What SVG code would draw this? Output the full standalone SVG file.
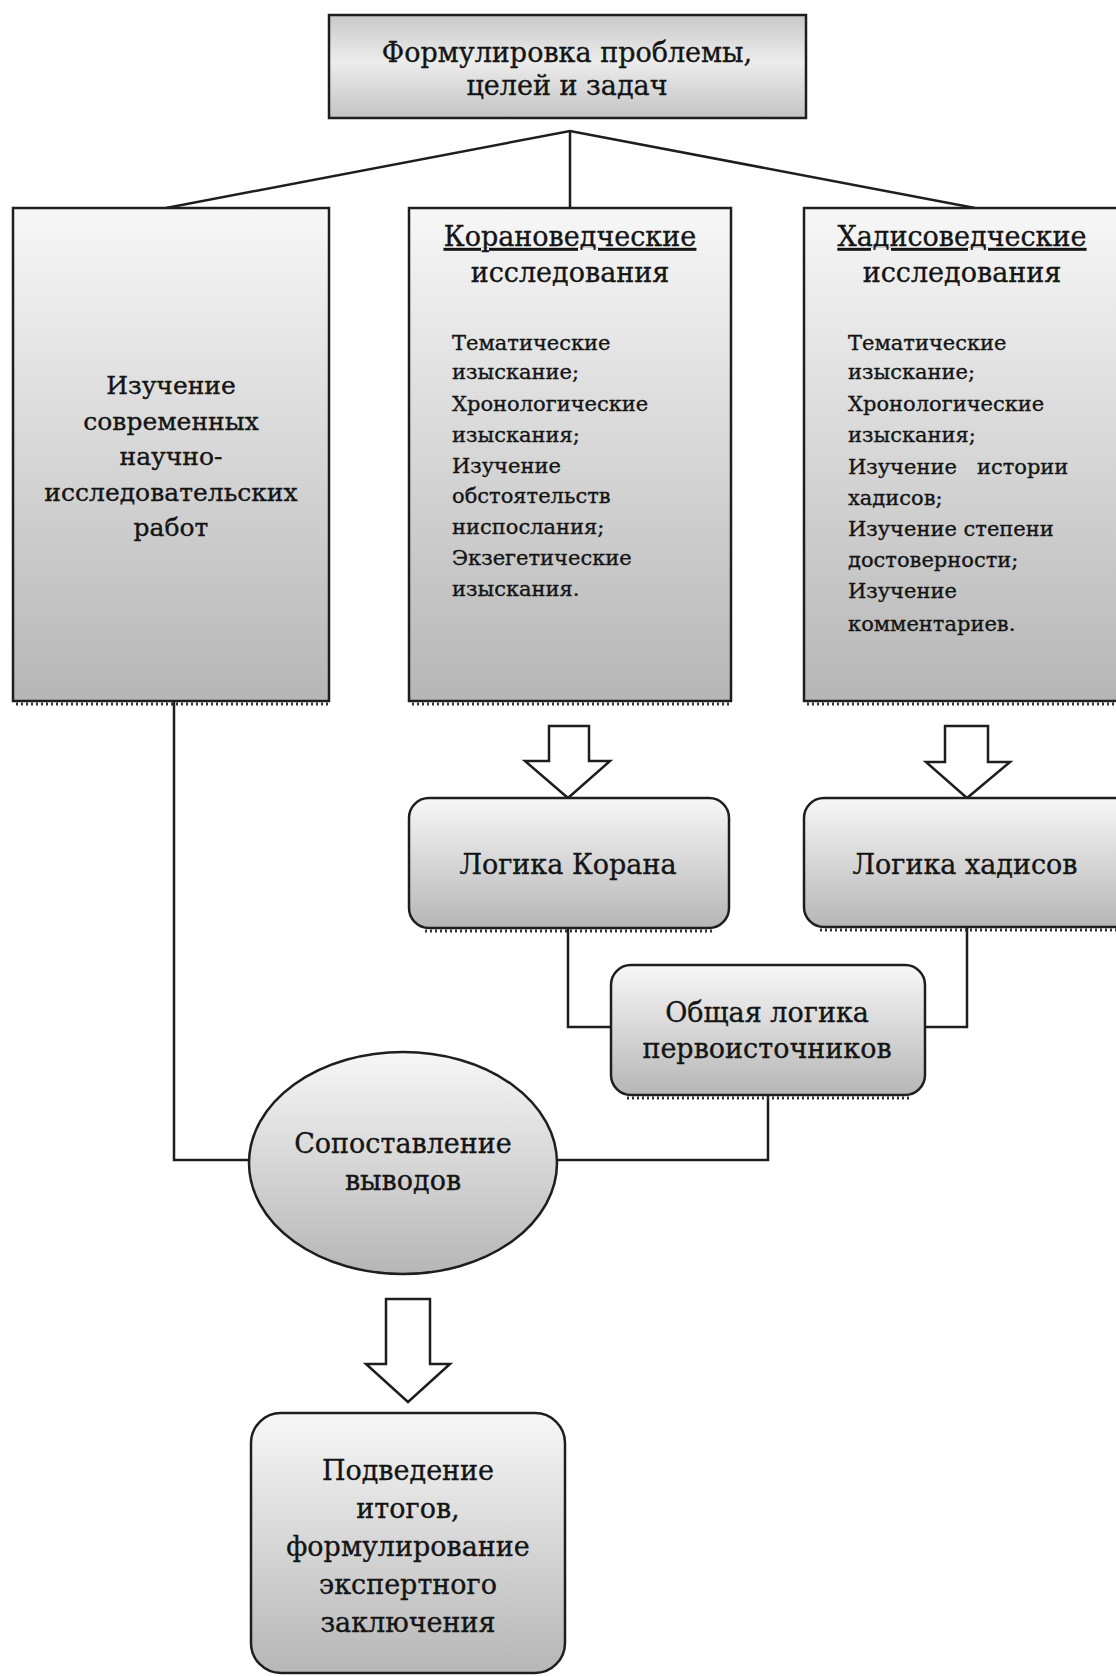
<svg xmlns="http://www.w3.org/2000/svg" width="1116" height="1676" viewBox="0 0 1116 1676">
<defs>
<linearGradient id="g" x1="0" y1="0" x2="0" y2="1">
<stop offset="0" stop-color="#f7f7f7"/>
<stop offset="1" stop-color="#b6b6b6"/>
</linearGradient>
<linearGradient id="gt" x1="0" y1="0" x2="0" y2="1">
<stop offset="0" stop-color="#c8c8c8"/>
<stop offset="0.45" stop-color="#ececec"/>
<stop offset="1" stop-color="#c4c4c4"/>
</linearGradient>
<style>
.box{fill:url(#g);stroke:#1e1e1e;stroke-width:2.5}
.top{fill:url(#gt);stroke:#1e1e1e;stroke-width:2.5}
.sh{fill:none;stroke:#333;stroke-width:3;stroke-dasharray:2 3}
.arr{fill:#fff;stroke:#1e1e1e;stroke-width:2.5;stroke-linejoin:miter}
.con{fill:none;stroke:#1e1e1e;stroke-width:2.5}
text{font-family:"DejaVu Serif","Liberation Serif",serif;fill:#141414;stroke:#141414;stroke-width:0.35}
.t28{font-size:27px;text-anchor:middle}
.t26{font-size:25px;text-anchor:middle}
.l{font-size:21px}
</style>
</defs>
<g id="connectors">
<polyline class="con" points="166,208 570,131 975,208"/>
<line class="con" x1="570" y1="131" x2="570" y2="208"/>
<polyline class="con" points="174,701 174,1160 249,1160"/>
<polyline class="con" points="768,1095 768,1160 557,1160"/>
<polyline class="con" points="568,928 568,1027 611,1027"/>
<polyline class="con" points="967,927 967,1027 925,1027"/>
</g>
<g id="top">
<rect class="top" x="329" y="15" width="477" height="103"/>
<text class="t28" x="567" y="62">Формулировка проблемы,</text>
<text class="t28" x="567" y="95">целей и задач</text>
</g>
<g id="left">
<line class="sh" x1="16" y1="704" x2="329" y2="704"/>
<rect class="box" x="13" y="208" width="316" height="493"/>
<text class="t26" x="171" y="394">Изучение</text>
<text class="t26" x="171" y="430">современных</text>
<text class="t26" x="171" y="465">научно-</text>
<text class="t26" x="171" y="501">исследовательских</text>
<text class="t26" x="171" y="536">работ</text>
</g>
<g id="koran">
<line class="sh" x1="412" y1="704" x2="731" y2="704"/>
<rect class="box" x="409" y="208" width="322" height="493"/>
<text class="t28" x="570" y="246" text-decoration="underline">Корановедческие</text>
<text class="t28" x="570" y="282">исследования</text>
<g class="l">
<text x="452" y="350">Тематические</text>
<text x="452" y="379">изыскание;</text>
<text x="452" y="411">Хронологические</text>
<text x="452" y="442">изыскания;</text>
<text x="452" y="473">Изучение</text>
<text x="452" y="503">обстоятельств</text>
<text x="452" y="534">ниспослания;</text>
<text x="452" y="565">Экзегетические</text>
<text x="452" y="596">изыскания.</text>
</g>
</g>
<g id="hadith">
<line class="sh" x1="807" y1="704" x2="1116" y2="704"/>
<rect class="box" x="804" y="208" width="320" height="493"/>
<text class="t28" x="962" y="246" text-decoration="underline">Хадисоведческие</text>
<text class="t28" x="962" y="282">исследования</text>
<g class="l">
<text x="848" y="350">Тематические</text>
<text x="848" y="379">изыскание;</text>
<text x="848" y="411">Хронологические</text>
<text x="848" y="442">изыскания;</text>
<text x="848" y="474">Изучение&#160;&#160;&#160;истории</text>
<text x="848" y="505">хадисов;</text>
<text x="848" y="536">Изучение степени</text>
<text x="848" y="567">достоверности;</text>
<text x="848" y="598">Изучение</text>
<text x="848" y="631">комментариев.</text>
</g>
</g>
<g id="arrow1"><polygon class="arr" points="549,726 589,726 589,761 610,761 568,798 525,761 549,761"/></g>
<g id="arrow2"><polygon class="arr" points="945,726 988,726 988,762 1010,762 967,798 926,762 945,762"/></g>
<g id="logic-koran">
<line class="sh" x1="425" y1="931" x2="715" y2="931"/>
<rect class="box" x="409" y="798" width="320" height="130" rx="20"/>
<text class="t28" x="568" y="874">Логика Корана</text>
</g>
<g id="logic-hadith">
<line class="sh" x1="820" y1="930" x2="1116" y2="930"/>
<rect class="box" x="804" y="798" width="330" height="129" rx="20"/>
<text class="t28" x="965" y="874">Логика хадисов</text>
</g>
<g id="common">
<line class="sh" x1="627" y1="1098" x2="910" y2="1098"/>
<rect class="box" x="611" y="965" width="314" height="130" rx="20"/>
<text class="t28" x="767" y="1022">Общая логика</text>
<text class="t28" x="767" y="1058">первоисточников</text>
</g>
<g id="compare">
<ellipse class="box" cx="403" cy="1163" rx="154" ry="111"/>
<text class="t28" x="403" y="1153">Сопоставление</text>
<text class="t28" x="403" y="1190">выводов</text>
</g>
<g id="arrow3"><polygon class="arr" points="386,1299 430,1299 430,1364 450,1364 408,1402 366,1364 386,1364"/></g>
<g id="final">
<rect class="box" x="251" y="1413" width="314" height="260" rx="30"/>
<text class="t28" x="408" y="1480">Подведение</text>
<text class="t28" x="408" y="1518">итогов,</text>
<text class="t28" x="408" y="1556">формулирование</text>
<text class="t28" x="408" y="1594">экспертного</text>
<text class="t28" x="408" y="1632">заключения</text>
</g>
</svg>
